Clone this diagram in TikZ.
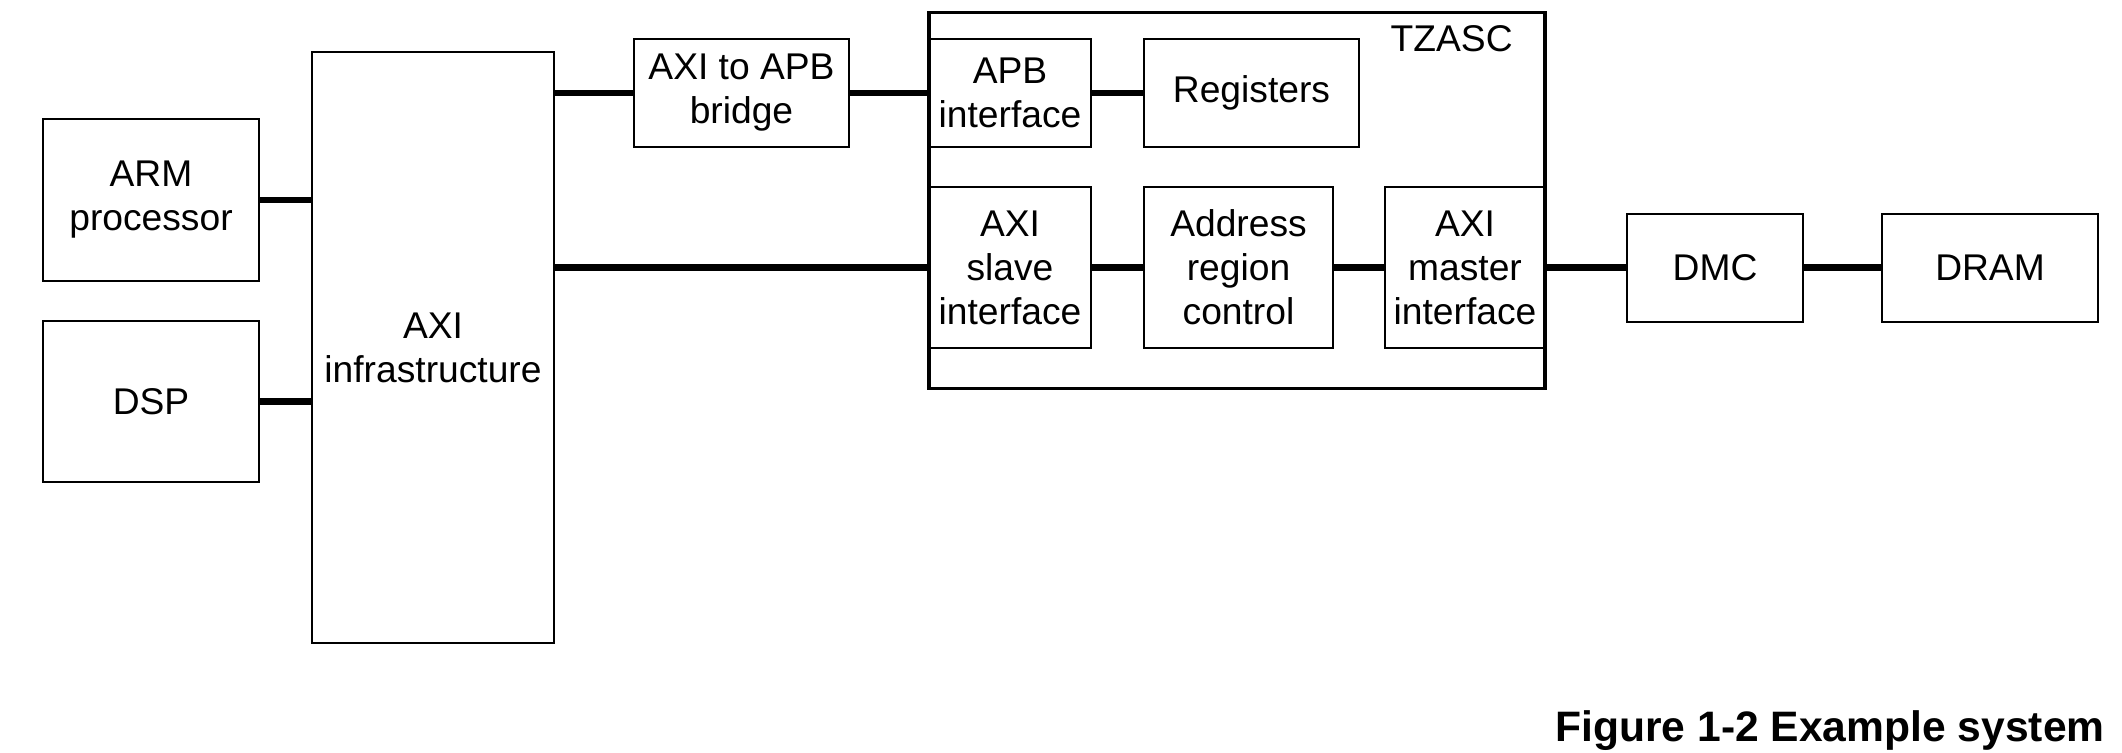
\documentclass[tikz,border=0pt]{standalone}
\usepackage{fontspec}
\setmainfont{Liberation Sans}
\begin{document}
\begin{tikzpicture}[x=0.5pt,y=-0.5pt,
  blk/.style={draw, line width=1pt, inner sep=0pt, align=center, font=\fontsize{18.6}{22}\selectfont},
  frame/.style={draw, line width=1.7pt, inner sep=0pt},
  link/.style={line width=3.3pt},
  lbl/.style={inner sep=0pt, font=\fontsize{18.6}{22}\selectfont},
  caption/.style={inner sep=0pt, font=\bfseries\fontsize{21.3}{25}\selectfont}
]
\useasboundingbox (0,0) rectangle (2122,752);
% TZASC frame
\node[frame, minimum width=308pt, minimum height=188pt] (tz) at (1237,200.2) {};
\node[lbl, anchor=base east] (tzl) at (1513,51.7) {TZASC};
% blocks
\node[blk, minimum width=108pt, minimum height=81pt] (arm) at (151,200) {ARM\\processor};
\node[blk, minimum width=108pt, minimum height=80.5pt] (dsp) at (151,401.5) {DSP};
\node[blk, minimum width=121pt, minimum height=295.5pt] (axi) at (433,347.5) {AXI\\infrastructure};
\node[blk, minimum width=107.5pt, minimum height=54pt] (bridge) at (741.5,93) {AXI to APB\\bridge};
\node[blk, minimum width=81pt, minimum height=54pt] (apb) at (1010,93) {APB\\interface};
\node[blk, minimum width=107.5pt, minimum height=54pt] (reg) at (1251.5,93) {Registers};
\node[blk, minimum width=81pt, minimum height=80.5pt] (slave) at (1010,267.5) {AXI\\slave\\interface};
\node[blk, minimum width=94.5pt, minimum height=80.5pt] (arc) at (1238.5,267.5) {Address\\region\\control};
\node[blk, minimum width=80pt, minimum height=80.5pt] (master) at (1465,267.5) {AXI\\master\\interface};
\node[blk, minimum width=88pt, minimum height=54pt] (dmc) at (1715,267.5) {DMC};
\node[blk, minimum width=108pt, minimum height=54pt] (dram) at (1990,267.5) {DRAM};
% connectors
\draw[link] (arm.east) -- (arm.east -| axi.west);
\draw[link] (dsp.east) -- (dsp.east -| axi.west);
\draw[link] (axi.east |- bridge.west) -- (bridge.west);
\draw[link] (bridge.east) -- (apb.west);
\draw[link] (axi.east |- slave.west) -- (slave.west);
\draw[link] (apb.east) -- (reg.west);
\draw[link] (slave.east) -- (arc.west);
\draw[link] (arc.east) -- (master.west);
\draw[link] (master.east) -- (dmc.west);
\draw[link] (dmc.east) -- (dram.west);
% caption
\node[caption, anchor=base west] (cap) at (1555,741) {Figure 1-2 Example system};
\end{tikzpicture}
\end{document}
